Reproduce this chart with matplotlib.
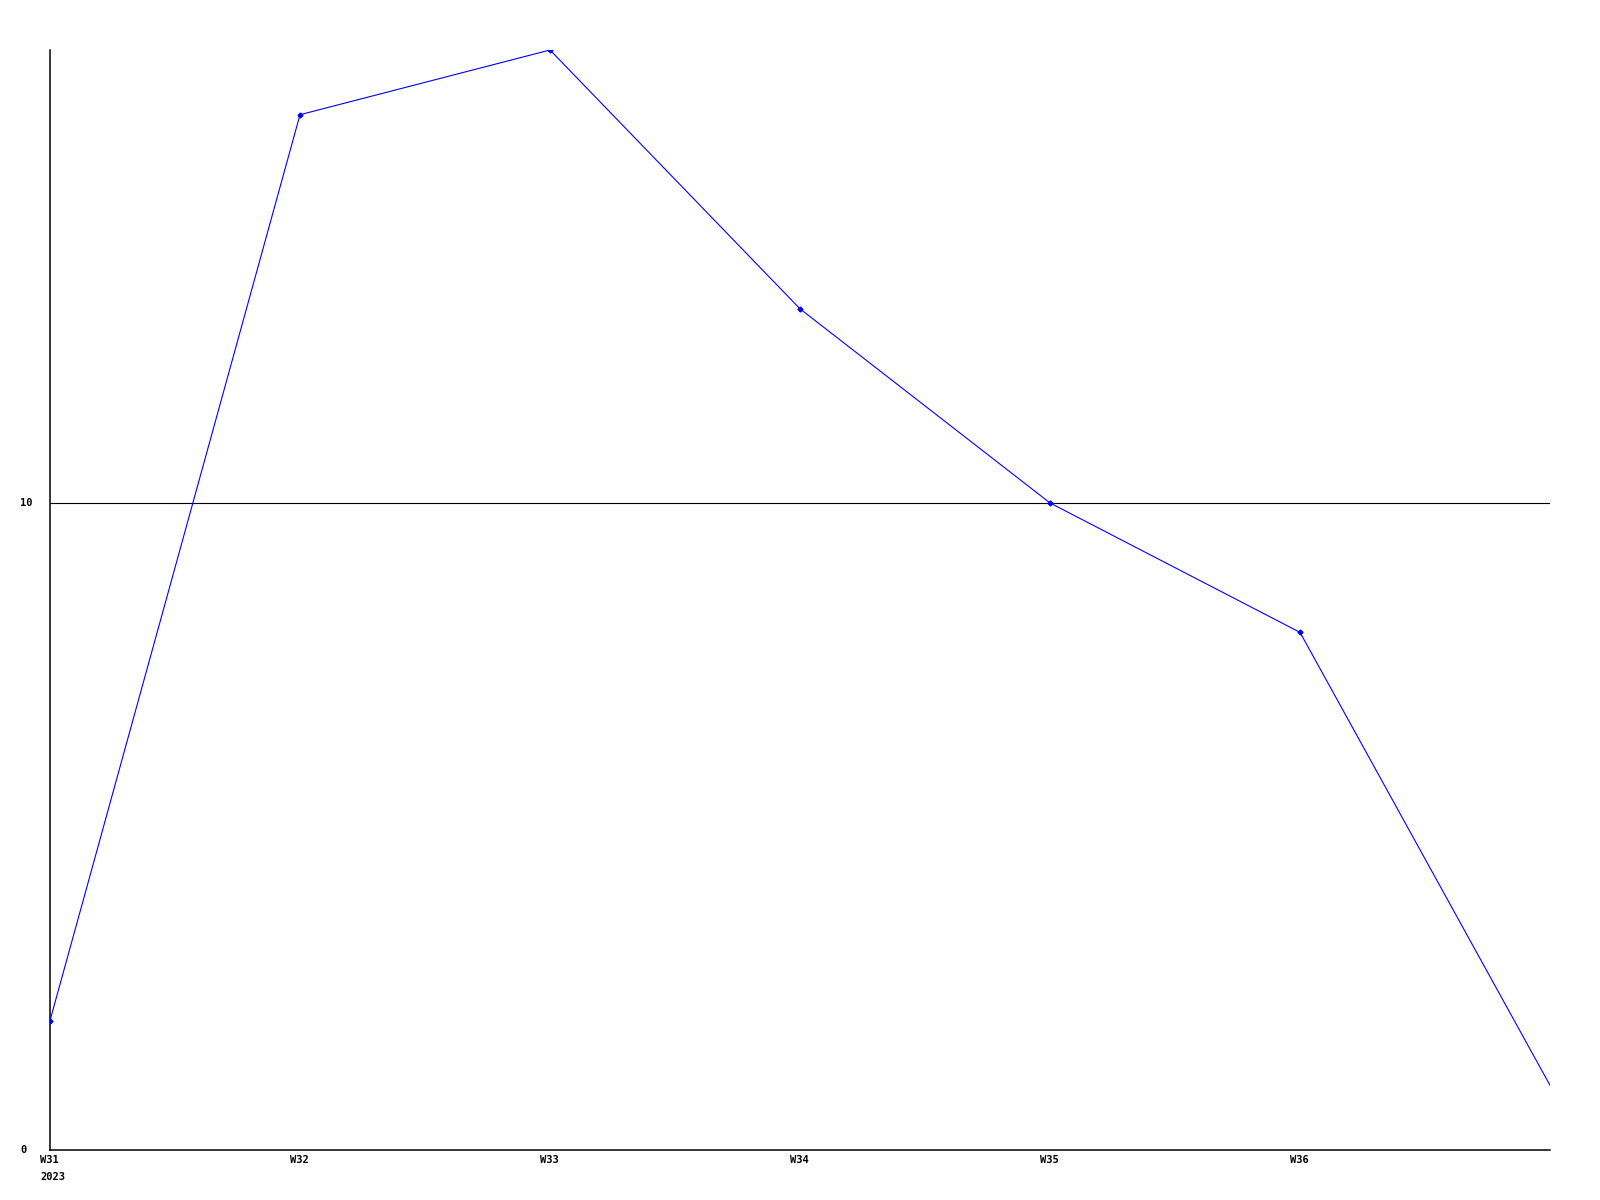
import matplotlib.pyplot as plt

# weekly values, last point is W37 (no label shown)
weeks = ["W31", "W32", "W33", "W34", "W35", "W36", "W37"]
values = [2, 16, 17, 13, 10, 8, 1]
tick_labels = ["W31\n2023", "W32", "W33", "W34", "W35", "W36"]
y_ticks = [0, 10]

fig = plt.figure(figsize=(16, 12), dpi=100)
ax = fig.add_axes([50 / 1600, 50 / 1200, 1500 / 1600, 1100 / 1200])

x = list(range(len(weeks)))
ax.plot(x, values, color="#0000ff", linewidth=0.8, marker="D", markersize=2.5,
        markevery=list(range(len(weeks) - 1)), zorder=3)

# single horizontal guide line at 10
ax.axhline(10, color="black", linewidth=0.8, zorder=2)

ax.set_xlim(0, len(weeks) - 1)
ax.set_ylim(0, 17)

for s in ["top", "right"]:
    ax.spines[s].set_visible(False)
for s in ["left", "bottom"]:
    ax.spines[s].set_linewidth(1.1)
    ax.spines[s].set_color("black")

font = dict(family="DejaVu Sans Mono", weight="bold", size=7.5)

ax.set_xticks(x[:len(tick_labels)])
ax.set_xticklabels([])
ax.set_yticks(y_ticks)
ax.set_yticklabels([])
ax.tick_params(length=0)

for i, lab in enumerate(tick_labels):
    ax.annotate(lab, xy=(i, 0), xycoords="data", xytext=(-10, -5),
                textcoords="offset pixels", ha="left", va="top",
                linespacing=1.85, **font)

for v in y_ticks:
    ax.annotate(str(v), xy=(0, v), xycoords=("axes fraction", "data"),
                xytext=(-30, 0), textcoords="offset pixels",
                ha="left", va="center", **font)

fig.savefig("out.png", dpi=100)
